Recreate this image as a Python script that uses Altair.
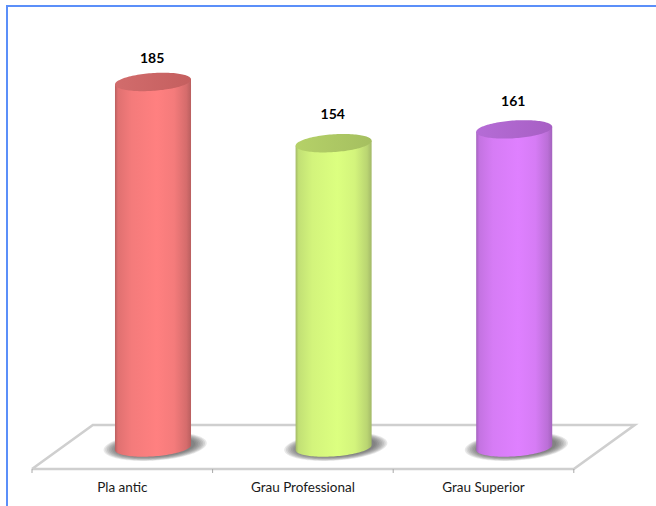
import numpy as np
import pandas as pd
import altair as alt

categories = ["Pla antic", "Grau Professional", "Grau Superior"]
values = [185, 154, 161]
label_gaps = [11.5, 14.2, 13.7]
body_edge = ["#b95f5f", "#a3b968", "#a363bd"]
body_mid = ["#ff8080", "#dcff80", "#df80ff"]
cap_left = ["#d26c6c", "#b5d168", "#b56cd6"]
cap_right = ["#c45f5f", "#a5bf60", "#a75fc4"]

# Chart-space layout: one x unit is one category slot, y units are the value scale
W, H = 656, 506
UNIT_X = 180.6
UNIT_Y = 1.976
X0_PX, Y0_PX = 32.0, 447.5
x_domain = [-X0_PX / UNIT_X, (W - X0_PX) / UNIT_X]
y_domain = [(Y0_PX - H) / UNIT_Y, Y0_PX / UNIT_Y]
x_scale = alt.Scale(domain=x_domain, range=[0, W], nice=False, zero=False)
y_scale = alt.Scale(domain=y_domain, range=[H, 0], nice=False, zero=False)
X = alt.X("x:Q", scale=x_scale, axis=None)
Y = alt.Y("y:Q", scale=y_scale, axis=None)

# Floor depth and cylinder geometry
DEPTH_X = 0.337
CYL_SHIFT = 0.17  # cylinders stand mid-way back on the floor
RX = 0.2105       # cylinder radius, x units
RY = 4.5          # ellipse half height, y units
RISE = 2.5 / UNIT_Y  # rise of the ellipse's right end above its centre, y units

FLOOR_FRONT, FLOOR_BACK = -10.9, 11.4


def arcs(cx, cy, rx, ry, n=61):
    t = np.linspace(np.pi, 0, n)
    u = np.cos(t)
    x = cx + rx * u
    mid = cy + RISE * (rx / RX) * u
    half = ry * np.sin(t)
    return x, mid, half


def ellipse_frame(cx, cy, rx, ry):
    x, mid, half = arcs(cx, cy, rx, ry)
    return pd.DataFrame({"x": x, "y": mid + half, "y2": mid - half})


def body_frame(cx, value):
    # Side wall: tilted line on top (under the cap), lower arc of the base
    x, mid, half = arcs(cx, 0.0, RX, RY)
    return pd.DataFrame({"x": x, "y": mid - half, "y2": mid + value})


def area(df, **kw):
    return alt.Chart(df).mark_area(interpolate="linear", **kw).encode(
        x=X, y=Y, y2=alt.Y2("y2:Q")
    )


def h_gradient(stops):
    return alt.Gradient(
        gradient="linear", x1=0, x2=1, y1=0, y2=0,
        stops=[alt.GradientStop(offset=o, color=c) for o, c in stops],
    )


def blend(c1, c2, w):
    a = np.array([int(c1[i:i + 2], 16) for i in (1, 3, 5)])
    b = np.array([int(c2[i:i + 2], 16) for i in (1, 3, 5)])
    m = np.round(a + (b - a) * w).astype(int)
    return "#%02x%02x%02x" % tuple(m)


# Floor outline
floor_df = pd.DataFrame({
    "x": [0, DEPTH_X, 3 + DEPTH_X, 3, 0],
    "y": [FLOOR_FRONT, FLOOR_BACK, FLOOR_BACK, FLOOR_FRONT, FLOOR_FRONT],
    "o": [0, 1, 2, 3, 4],
})
floor = alt.Chart(floor_df).mark_line(color="#cfcfcf", strokeWidth=2.6).encode(
    x=X, y=Y, order="o:Q"
)

# Category ticks on the front edge
tick_df = pd.DataFrame({"x": [0, 1, 2, 3], "y": [FLOOR_FRONT] * 4, "y2": [FLOOR_FRONT - 2] * 4})
ticks = alt.Chart(tick_df).mark_rule(color="#a8a8a8", strokeWidth=1).encode(
    x=X, y=Y, y2=alt.Y2("y2:Q")
)

layers = [floor, ticks]

for i, (name, value) in enumerate(zip(categories, values)):
    cx = i + 0.5 + CYL_SHIFT

    # Soft shadow built from nested translucent ellipses
    for k in range(8):
        f = 1 - k / 8
        layers.append(area(
            ellipse_frame(cx + 0.012, 0.5, RX + 0.075 * f, RY + 0.4 + 2.2 * f),
            color="#404040", opacity=0.12,
        ))

    edge, mid = body_edge[i], body_mid[i]
    layers.append(area(
        body_frame(cx, value),
        color=h_gradient([
            (0.0, edge),
            (0.04, blend(edge, mid, 0.55)),
            (0.22, blend(edge, mid, 0.85)),
            (0.55, mid),
            (0.78, blend(edge, mid, 0.85)),
            (0.94, blend(edge, mid, 0.4)),
            (1.0, edge),
        ]),
    ))
    layers.append(area(
        ellipse_frame(cx, value, RX, RY),
        color=h_gradient([(0.0, cap_left[i]), (1.0, cap_right[i])]),
    ))

# Value labels above each cylinder
label_df = pd.DataFrame({
    "x": [i + 0.5 + CYL_SHIFT - 0.005 for i in range(3)],
    "y": [v + g for v, g in zip(values, label_gaps)],
    "text": [str(v) for v in values],
})
value_labels = alt.Chart(label_df).mark_text(
    font="Lato", fontSize=14, fontWeight="bold", color="#000000", baseline="middle"
).encode(x=X, y=Y, text="text:N")

# Category labels under the floor
cat_df = pd.DataFrame({
    "x": [i + 0.5 for i in range(3)],
    "y": [-20.3] * 3,
    "text": categories,
})
cat_labels = alt.Chart(cat_df).mark_text(
    font="Lato", fontSize=13.5, color="#1a1a1a", baseline="middle"
).encode(x=X, y=Y, text="text:N")

# Blue frame along the top and left edges
frame_top = alt.Chart(pd.DataFrame({"a": [0]})).mark_rule(color="#5b8ff9", strokeWidth=2).encode(
    x=alt.value(6), x2=alt.value(W), y=alt.value(6)
)
frame_left = alt.Chart(pd.DataFrame({"a": [0]})).mark_rule(color="#5b8ff9", strokeWidth=2).encode(
    x=alt.value(7), y=alt.value(5), y2=alt.value(H)
)

chart = alt.layer(*layers, value_labels, cat_labels, frame_top, frame_left).properties(
    width=W, height=H, padding=0, autosize=alt.AutoSizeParams(type="none"), background="#ffffff"
).configure_view(stroke=None)

chart.save("out.html", embed_options={"renderer": "svg", "actions": False})
